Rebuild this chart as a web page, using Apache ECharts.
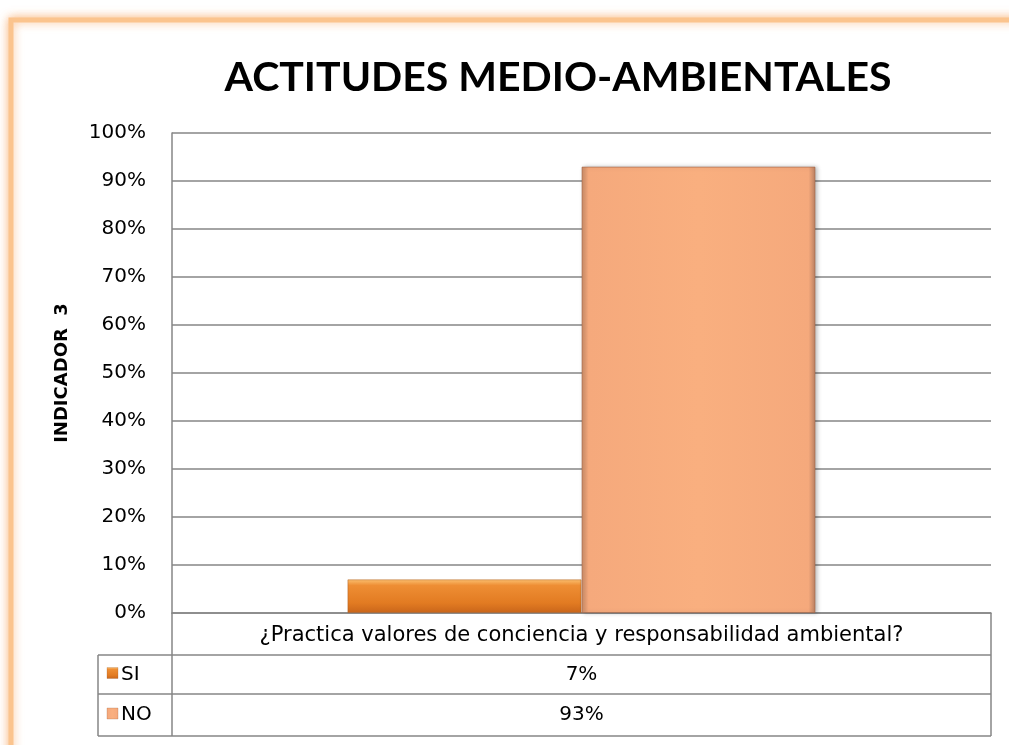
<!DOCTYPE html>
<html>
<head>
<meta charset="utf-8">
<script src="https://cdn.jsdelivr.net/npm/echarts@6/dist/echarts.min.js"></script>
<style>
html,body{margin:0;padding:0;background:#fff;}
#c{width:1009px;height:745px;}
</style>
</head>
<body>
<div id="c"></div>
<script>
var titleText = 'ACTITUDES MEDIO-AMBIENTALES';
var yAxisName = 'INDICADOR  3';
var categories = ['¿Practica valores de conciencia y responsabilidad ambiental?'];
var seriesNames = ['SI', 'NO'];
var siValues = [0.07];
var noValues = [0.93];
var valueLabels = ['7%', '93%'];

var FONT = 'DejaVu Sans';
var G = {left: 172, right: 18, top: 133, bottom: 132};
var W = 1009, H = 745;
var gridRight = W - G.right, gridBottom = H - G.bottom;
var rowEdges = [gridBottom, 655, 694, 736];
var tableLeft = 98;

var siColor = {type:'linear',x:0,y:0,x2:0,y2:1,colorStops:[
  {offset:0,color:'#FBC070'},{offset:0.18,color:'#EE8E34'},{offset:0.7,color:'#E27B22'},{offset:1,color:'#C9651A'}]};
var noColor = {type:'linear',x:0,y:0,x2:1,y2:0,colorStops:[
  {offset:0,color:'#C98B67'},{offset:0.03,color:'#F5A97C'},{offset:0.5,color:'#F9AF7F'},{offset:0.97,color:'#F5A97C'},{offset:1,color:'#B98062'}]};
var seriesColors = [siColor, noColor];

var chart = echarts.init(document.getElementById('c'));

var graphics = [];
graphics.push({type:'rect', z:-10, shape:{x:11, y:20, width:1100, height:900},
  style:{fill:'#fff', stroke:'#FBC48E', lineWidth:5, shadowBlur:10, shadowColor:'rgba(247,150,70,0.6)'}, silent:true});
var lc = '#868686';
function line(x1,y1,x2,y2){graphics.push({type:'line',shape:{x1:x1,y1:y1,x2:x2,y2:y2},style:{stroke:lc,lineWidth:1.5},silent:true});}
line(G.left, rowEdges[0], G.left, rowEdges[3]);
line(gridRight, rowEdges[0], gridRight, rowEdges[3]);
line(tableLeft, rowEdges[1], tableLeft, rowEdges[3]);
for (var i=1;i<rowEdges.length;i++) line(tableLeft, rowEdges[i], gridRight, rowEdges[i]);
var cx = (G.left + gridRight)/2;
for (var r=0;r<seriesNames.length;r++){
  var yc = (rowEdges[r+1]+rowEdges[r+2])/2;
  graphics.push({type:'rect', shape:{x:107,y:yc-7,width:11,height:11},
    style:{fill:seriesColors[r], stroke:'rgba(150,90,50,0.5)', lineWidth:0.5}, silent:true});
  graphics.push({type:'text', x:121, y:yc, style:{text:seriesNames[r], font:'20px "'+FONT+'"', fill:'#000', textVerticalAlign:'middle', textAlign:'left'}, silent:true});
  graphics.push({type:'text', x:cx, y:yc, style:{text:valueLabels[r], font:'20px "'+FONT+'"', fill:'#000', textVerticalAlign:'middle', textAlign:'center'}, silent:true});
}

chart.setOption({
  backgroundColor:'#fff',
  animation:false,
  title:{text:titleText, left:553, top:52, textAlign:'center',
    textStyle:{fontFamily:'Lato', fontWeight:'bold', fontSize:41, color:'#000'}},
  grid:G,
  xAxis:{type:'category', data:categories,
    axisLine:{show:true, lineStyle:{color:lc, width:1.5}},
    axisTick:{show:false},
    axisLabel:{fontFamily:FONT, fontSize:21, color:'#000', margin:12}},
  yAxis:{type:'value', min:0, max:1, interval:0.1,
    name:yAxisName, nameLocation:'middle', nameRotate:90, nameGap:101,
    nameTextStyle:{fontFamily:FONT, fontWeight:'bold', fontSize:18, color:'#000'},
    axisLine:{show:true, lineStyle:{color:lc, width:1.5}},
    axisTick:{show:false},
    splitLine:{lineStyle:{color:lc, width:1.5}},
    axisLabel:{fontFamily:FONT, fontSize:20, color:'#000', margin:26,
      formatter:function(v){return Math.round(v*100)+'%';}}},
  series:[
    {name:seriesNames[0], type:'bar', data:siValues, barWidth:234, barGap:'0%',
      itemStyle:{color:siColor, borderColor:'rgba(170,90,30,0.6)', borderWidth:0.8}},
    {name:seriesNames[1], type:'bar', data:noValues, barWidth:234, barGap:'0%',
      itemStyle:{color:noColor, borderColor:'rgba(160,100,70,0.6)', borderWidth:1,
        shadowBlur:4, shadowColor:'rgba(0,0,0,0.25)', shadowOffsetX:2}}
  ],
  graphic:graphics
});
</script>
</body>
</html>
